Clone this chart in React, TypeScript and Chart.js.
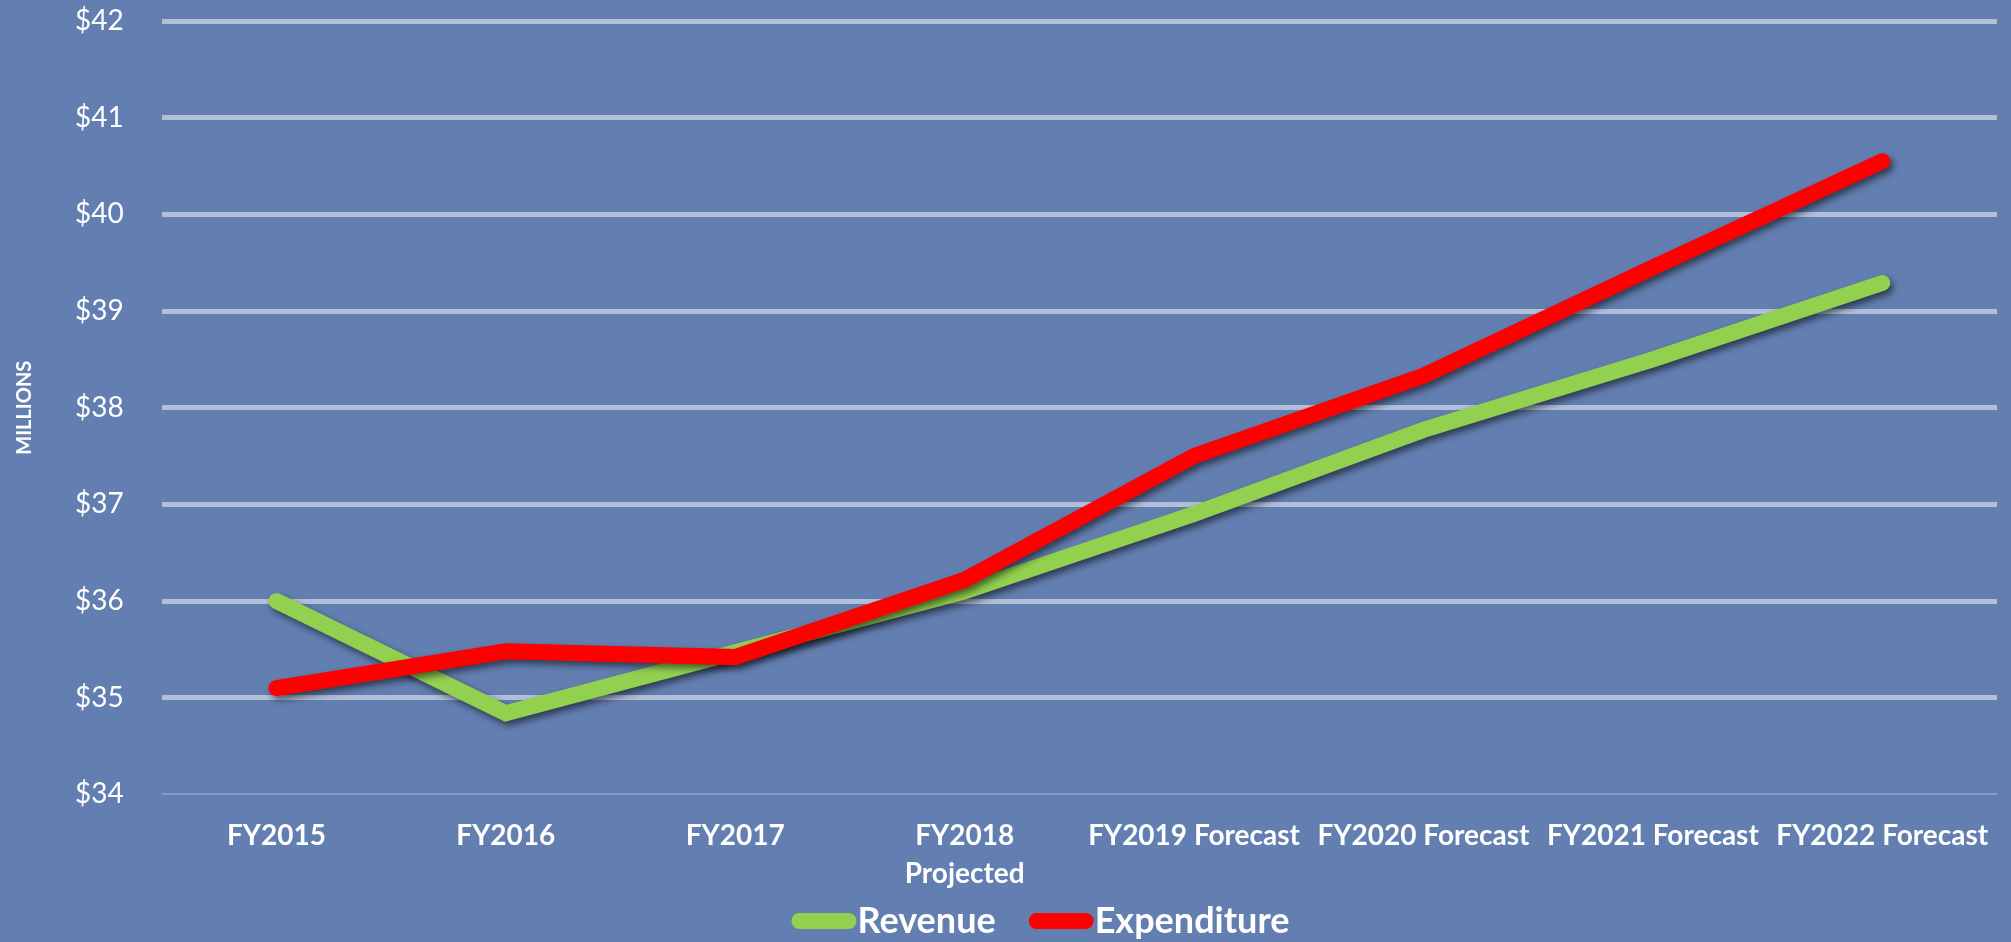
import React, { useEffect, useRef } from "react";
import { Chart, registerables } from "chart.js";

Chart.register(...registerables);

const categories: (string | string[])[] = [
  "FY2015",
  "FY2016",
  "FY2017",
  ["FY2018", "Projected"],
  "FY2019 Forecast",
  "FY2020 Forecast",
  "FY2021 Forecast",
  "FY2022 Forecast",
];
const revenue = [36.0, 34.84, 35.47, 36.1, 36.9, 37.77, 38.5, 39.29];
const expenditure = [35.1, 35.48, 35.42, 36.22, 37.5, 38.33, 39.45, 40.55];
const yMin = 34;
const yMax = 42;
const yStep = 1;
const yTitle = "MILLIONS";

const BG = "#637FB1";
const GREEN = "#92D050";
const RED = "#FF0000";
const FONT = "Lato, 'Open Sans', sans-serif";

const shadowPlugin = {
  id: "lineShadow",
  beforeDatasetsDraw(chart: any) {
    const ctx = chart.ctx;
    ctx.save();
    ctx.shadowColor = "rgba(0,0,0,0.55)";
    ctx.shadowBlur = 7;
    ctx.shadowOffsetX = 3;
    ctx.shadowOffsetY = 4;
  },
  afterDatasetsDraw(chart: any) {
    chart.ctx.restore();
  },
};

const legendPlugin = {
  id: "customLegend",
  afterDraw(chart: any) {
    const ctx = chart.ctx;
    const ds = chart.data.datasets;
    const boxW = 65;
    const boxH = 16;
    const gapText = 1;
    const gapItem = 33;
    ctx.save();
    ctx.font = `bold 36px ${FONT}`;
    const widths = ds.map((d: any) => boxW + gapText + ctx.measureText(d.label).width);
    const total = widths.reduce((a: number, b: number) => a + b, 0) + gapItem * (ds.length - 1);
    let x = chart.width / 2 + 35 - total / 2;
    const cy = 921;
    ds.forEach((d: any, i: number) => {
      ctx.fillStyle = d.borderColor;
      ctx.beginPath();
      const r = boxH / 2;
      ctx.moveTo(x + r, cy - r);
      ctx.lineTo(x + boxW - r, cy - r);
      ctx.arc(x + boxW - r, cy, r, -Math.PI / 2, Math.PI / 2);
      ctx.lineTo(x + r, cy + r);
      ctx.arc(x + r, cy, r, Math.PI / 2, (3 * Math.PI) / 2);
      ctx.closePath();
      ctx.fill();
      ctx.fillStyle = "#FFFFFF";
      ctx.textBaseline = "alphabetic";
      ctx.textAlign = "left";
      ctx.fillText(d.label, x + boxW + gapText, cy + 12);
      x += widths[i] + gapItem;
    });
    ctx.restore();
  },
};

export default function App() {
  const ref = useRef<HTMLCanvasElement | null>(null);

  useEffect(() => {
    document.body.style.margin = "0";
    document.body.style.overflow = "hidden";
    if (!ref.current) return;
    const chart = new Chart(ref.current, {
      type: "line",
      data: {
        labels: categories as any,
        datasets: [
          {
            label: "Revenue",
            data: revenue,
            borderColor: GREEN,
            backgroundColor: GREEN,
            borderWidth: 16,
            pointRadius: 0,
            pointHoverRadius: 0,
            borderCapStyle: "round",
            borderJoinStyle: "miter",
            tension: 0,
            order: 2,
          },
          {
            label: "Expenditure",
            data: expenditure,
            borderColor: RED,
            backgroundColor: RED,
            borderWidth: 16,
            pointRadius: 0,
            pointHoverRadius: 0,
            borderCapStyle: "round",
            borderJoinStyle: "miter",
            tension: 0,
            order: 1,
          },
        ],
      },
      options: {
        animation: false,
        responsive: true,
        maintainAspectRatio: false,
        layout: { padding: { left: 0, top: 0, right: 14, bottom: 26 } },
        plugins: {
          legend: { display: false },
          tooltip: { enabled: false },
        },
        scales: {
          x: {
            offset: true,
            grid: { display: false, drawTicks: false },
            border: { display: false },
            afterFit: (s: any) => {
              s.paddingLeft = 0;
              s.paddingRight = 0;
            },
            ticks: {
              color: "#FFFFFF",
              font: { family: FONT, size: 28, weight: "bold", lineHeight: 1.35 },
              padding: 23,
              maxRotation: 0,
              minRotation: 0,
              autoSkip: false,
            },
          },
          y: {
            min: yMin,
            max: yMax,
            border: { display: false },
            afterFit: (s: any) => {
              s.paddingTop = 21;
              s.paddingBottom = 0;
            },
            grid: {
              drawTicks: false,
              color: (c: any) =>
                c.tick && c.tick.value === yMin ? "rgba(255,255,255,0.22)" : "rgba(255,255,255,0.5)",
              lineWidth: (c: any) => (c.tick && c.tick.value === yMin ? 2 : 5),
            },
            ticks: {
              stepSize: yStep,
              color: "#FFFFFF",
              font: { family: FONT, size: 28 },
              padding: 38,
              callback: (v: any) => `$${v}`,
            },
            title: {
              display: true,
              text: yTitle,
              color: "#FFFFFF",
              font: { family: FONT, size: 20, weight: "bold" },
              padding: { top: 13, bottom: 0 },
            },
          },
        },
      },
      plugins: [shadowPlugin, legendPlugin],
    });
    return () => chart.destroy();
  }, []);

  return (
    <div style={{ width: 2011, height: 942, background: BG, position: "relative" }}>
      <canvas ref={ref} />
    </div>
  );
}
